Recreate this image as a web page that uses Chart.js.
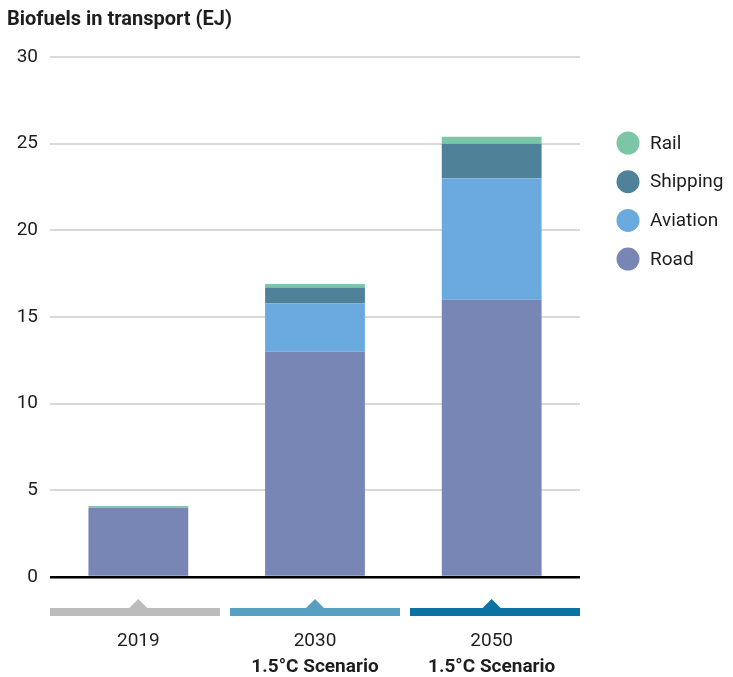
<!DOCTYPE html>
<html>
<head>
<meta charset="utf-8">
<script src="https://cdn.jsdelivr.net/npm/chart.js@4/dist/chart.umd.min.js"></script>
<style>
  html, body { margin: 0; padding: 0; background: #fff; }
  #wrap { width: 733px; height: 677px; }
</style>
</head>
<body>
<div id="wrap"><canvas id="biofuelChart" width="733" height="677"></canvas></div>
<script>
const years = ['2019', '2030', '2050'];
const scenarioLabels = ['', '1.5°C Scenario', '1.5°C Scenario'];
const road = [4.0, 13.0, 16.0];
const aviation = [0, 2.8, 7.0];
const shipping = [0, 0.9, 2.0];
const rail = [0.1, 0.2, 0.4];
const yTicks = [0, 5, 10, 15, 20, 25, 30];
const bandColors = ['#bcbcbc', '#58a0c1', '#0b72a1'];

const FONT = "Roboto, 'Noto Sans', sans-serif";
const TEXT = '#1e1e1e';

// bands, scenario labels and legend drawn on top of the library layout
const extras = {
    id: 'extras',
    afterDraw(chart) {
        const c = chart.ctx;
        const area = chart.chartArea;
        const x = chart.scales.x;

        c.save();
        c.fillStyle = TEXT;
        c.font = "bold 20px " + FONT;
        c.textAlign = 'left';
        c.textBaseline = 'alphabetic';
        c.fillText('Biofuels in transport (EJ)', 7, 25);

        const gap = 10;
        const bw = (area.right - area.left - gap * 2) / years.length;
        years.forEach((yr, i) => {
            const bx = area.left + i * (bw + gap);
            const cx = x.getPixelForValue(i);
            c.fillStyle = bandColors[i];
            c.fillRect(bx, 608, bw, 8);
            c.beginPath();
            c.moveTo(cx - 10, 609);
            c.lineTo(cx, 599);
            c.lineTo(cx + 10, 609);
            c.closePath();
            c.fill();

            c.fillStyle = TEXT;
            c.textAlign = 'center';
            c.font = "19px " + FONT;
            c.fillText(yr, cx, 646);
            if (scenarioLabels[i]) {
                c.font = "bold 19px " + FONT;
                c.fillText(scenarioLabels[i], cx, 672);
            }
        });

        // legend, top item is the top of the stack
        const items = chart.data.datasets.slice().reverse();
        items.forEach((ds, i) => {
            const ly = 143 + i * 38.7;
            c.fillStyle = ds.backgroundColor;
            c.beginPath();
            c.arc(628, ly, 11.5, 0, Math.PI * 2);
            c.fill();
            c.fillStyle = TEXT;
            c.textAlign = 'left';
            c.textBaseline = 'middle';
            c.font = "19px " + FONT;
            c.fillText(ds.label, 650, ly + 1);
        });
        c.restore();
    }
};

const ctx = document.getElementById('biofuelChart').getContext('2d');
const chart = new Chart(ctx, {
    type: 'bar',
    data: {
        labels: years,
        datasets: [
            { label: 'Road', data: road, backgroundColor: '#7886b6' },
            { label: 'Aviation', data: aviation, backgroundColor: '#6aaade' },
            { label: 'Shipping', data: shipping, backgroundColor: '#4f8299' },
            { label: 'Rail', data: rail, backgroundColor: '#7cc6a8' }
        ]
    },
    options: {
        responsive: false,
        animation: false,
        layout: { padding: { left: 0, right: 153, top: 57, bottom: 100 } },
        datasets: { bar: { categoryPercentage: 1, barPercentage: 0.565, borderWidth: 0 } },
        plugins: {
            legend: { display: false },
            tooltip: { enabled: false }
        },
        scales: {
            x: {
                stacked: true,
                display: false
            },
            y: {
                stacked: true,
                min: 0,
                max: 30,
                afterFit(scale) { scale.width = 50; },
                afterBuildTicks(scale) { scale.ticks = yTicks.map(v => ({ value: v })); },
                border: { display: false },
                grid: {
                    drawTicks: false,
                    color: c => c.tick && c.tick.value === 0 ? '#000000' : '#d9d9d9',
                    lineWidth: c => c.tick && c.tick.value === 0 ? 2.5 : 2
                },
                ticks: {
                    padding: 12,
                    color: TEXT,
                    font: { family: FONT, size: 19 }
                }
            }
        }
    },
    plugins: [extras]
});
</script>
</body>
</html>
